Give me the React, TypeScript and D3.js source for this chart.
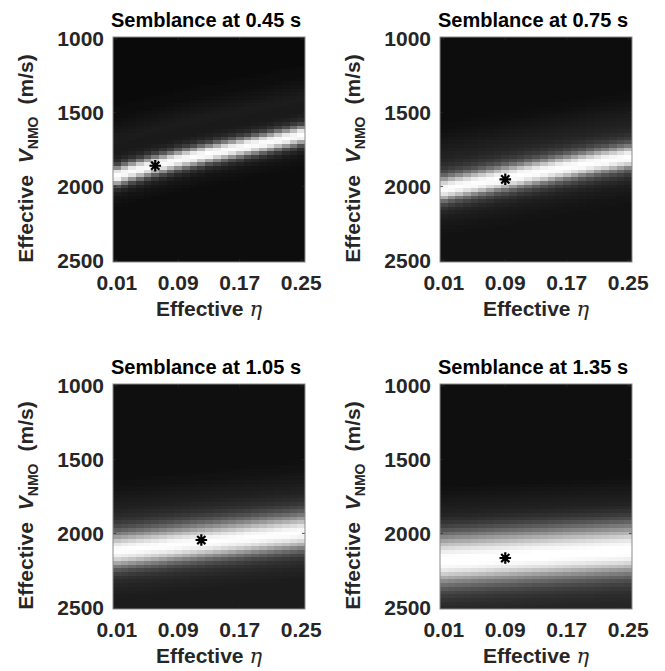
import React from "react";
import * as d3 from "d3";

// ---- data ----
const etaValues = [0.01, 0.02, 0.03, 0.04, 0.05, 0.06, 0.07, 0.08, 0.09, 0.1, 0.11, 0.12, 0.13, 0.14, 0.15, 0.16, 0.17, 0.18, 0.19, 0.2, 0.21, 0.22, 0.23, 0.24, 0.25];
const velocityStep = 25;
const velocityRows = d3.range(1000, 2500 + 1, velocityStep);

const titles = ["Semblance at 0.45 s", "Semblance at 0.75 s", "Semblance at 1.05 s", "Semblance at 1.35 s"];

// ridge (peak semblance) velocity for each eta column, m/s
const ridge045 = [1925, 1910, 1895, 1882, 1868, 1855, 1843, 1831, 1819, 1808, 1797, 1786, 1775, 1765, 1755, 1745, 1735, 1725, 1715, 1705, 1694, 1683, 1672, 1661, 1650];
const ridge075 = [2015, 2005, 1996, 1987, 1978, 1969, 1960, 1951, 1942, 1933, 1924, 1915, 1906, 1897, 1888, 1879, 1870, 1861, 1852, 1843, 1834, 1826, 1818, 1810, 1802];
const ridge105 = [2113, 2108, 2103, 2098, 2093, 2088, 2083, 2077, 2072, 2067, 2062, 2057, 2052, 2047, 2042, 2037, 2032, 2027, 2021, 2016, 2011, 2006, 2001, 1996, 1991];
const ridge135 = [2185, 2182, 2179, 2177, 2174, 2171, 2168, 2165, 2163, 2160, 2157, 2154, 2151, 2149, 2146, 2143, 2140, 2137, 2135, 2132, 2129, 2126, 2123, 2121, 2118];

// semblance across the ridge, rows offset -20 .. +14 (in velocity steps)
const profileOffsets = d3.range(-20, 15);
const profile045 = [0.04, 0.04, 0.05, 0.05, 0.05, 0.06, 0.07, 0.08, 0.09, 0.1, 0.11, 0.11, 0.1, 0.1, 0.1, 0.12, 0.16, 0.27, 0.54, 0.9, 1.0, 0.95, 0.64, 0.32, 0.17, 0.11, 0.08, 0.07, 0.06, 0.05, 0.05, 0.05, 0.05, 0.05, 0.05];
const profile075 = [0.05, 0.05, 0.05, 0.06, 0.06, 0.07, 0.08, 0.09, 0.1, 0.11, 0.12, 0.13, 0.14, 0.16, 0.19, 0.24, 0.33, 0.5, 0.75, 0.95, 1.0, 0.97, 0.8, 0.5, 0.32, 0.22, 0.16, 0.13, 0.11, 0.1, 0.09, 0.08, 0.08, 0.07, 0.07];
const profile105 = [0.06, 0.06, 0.07, 0.07, 0.08, 0.09, 0.1, 0.11, 0.12, 0.13, 0.15, 0.17, 0.2, 0.25, 0.32, 0.42, 0.55, 0.7, 0.85, 0.96, 1.0, 0.98, 0.9, 0.75, 0.56, 0.4, 0.29, 0.22, 0.18, 0.16, 0.14, 0.13, 0.12, 0.11, 0.11];
const profile135 = [0.06, 0.07, 0.08, 0.09, 0.1, 0.11, 0.12, 0.13, 0.15, 0.18, 0.22, 0.28, 0.36, 0.46, 0.57, 0.68, 0.79, 0.89, 0.96, 1.0, 1.0, 1.0, 0.96, 0.88, 0.76, 0.62, 0.5, 0.4, 0.32, 0.26, 0.22, 0.19, 0.17, 0.16, 0.15];

// picked maximum (asterisk)
const pickEta = [0.06, 0.09, 0.12, 0.09];
const pickVelocity = [1860, 1952, 2045, 2167];

const xTicks = [0.01, 0.09, 0.17, 0.25];
const yTicks = [1000, 1500, 2000, 2500];

const ridges = [ridge045, ridge075, ridge105, ridge135];
const profiles = [profile045, profile075, profile105, profile135];

// ---- layout ----
const W = 665;
const H = 671;
const plotW = 192;
const plotH = 225;
const origins = [
  { x: 113, y: 37 },
  { x: 440, y: 37 },
  { x: 113, y: 384 },
  { x: 440, y: 384 },
];
const FONT = "'Liberation Sans', Arial, Helvetica, sans-serif";

function profileValue(profile: number[], offset: number): number {
  const lo = profileOffsets[0];
  const hi = profileOffsets[profileOffsets.length - 1];
  if (offset <= lo) return profile[0];
  if (offset >= hi) return profile[profile.length - 1];
  const i = Math.floor(offset - lo);
  const t = offset - lo - i;
  return profile[i] * (1 - t) + profile[i + 1] * t;
}

function Asterisk({ cx, cy, r }: { cx: number; cy: number; r: number }) {
  const d = r * Math.SQRT1_2;
  const path = `M${cx - r},${cy}L${cx + r},${cy}M${cx},${cy - r}L${cx},${cy + r}M${cx - d},${cy - d}L${cx + d},${cy + d}M${cx - d},${cy + d}L${cx + d},${cy - d}`;
  return <path d={path} stroke="#000" strokeWidth={2.2} fill="none" />;
}

function Panel({ idx }: { idx: number }) {
  const { x: x0, y: y0 } = origins[idx];
  const half = 0.005;
  const xs = d3.scaleLinear().domain([etaValues[0] - half, etaValues[etaValues.length - 1] + half]).range([x0, x0 + plotW]);
  const ys = d3
    .scaleLinear()
    .domain([velocityRows[0] - velocityStep / 2, velocityRows[velocityRows.length - 1] + velocityStep / 2])
    .range([y0, y0 + plotH]);
  const gray = d3.scaleLinear<string>().domain([0, 1]).range(["#000000", "#ffffff"]).clamp(true);
  const ridge = ridges[idx];
  const profile = profiles[idx];

  const cells: JSX.Element[] = [];
  etaValues.forEach((eta, i) => {
    const xa = xs(eta - half);
    const xb = xs(eta + half);
    velocityRows.forEach((v, j) => {
      const ya = ys(v - velocityStep / 2);
      const yb = ys(v + velocityStep / 2);
      const val = profileValue(profile, (v - ridge[i]) / velocityStep);
      cells.push(
        <rect key={`${i}-${j}`} x={xa} y={ya} width={xb - xa + 0.4} height={yb - ya + 0.4} fill={gray(val)} />
      );
    });
  });

  const tickLen = 3;
  return (
    <g>
      <g shapeRendering="crispEdges">{cells}</g>
      <g stroke="#262626" strokeWidth={0.8}>
        {yTicks.map((t) => (
          <g key={`yt${t}`}>
            <line x1={x0} x2={x0 + tickLen} y1={ys(t)} y2={ys(t)} />
            <line x1={x0 + plotW} x2={x0 + plotW - tickLen} y1={ys(t)} y2={ys(t)} />
          </g>
        ))}
        {xTicks.map((t) => (
          <g key={`xt${t}`}>
            <line x1={xs(t)} x2={xs(t)} y1={y0 + plotH} y2={y0 + plotH - tickLen} />
            <line x1={xs(t)} x2={xs(t)} y1={y0} y2={y0 + tickLen} />
          </g>
        ))}
      </g>
      <rect x={x0} y={y0} width={plotW} height={plotH} fill="none" stroke="#8a8a8a" strokeWidth={1} />
      <Asterisk cx={xs(pickEta[idx])} cy={ys(pickVelocity[idx])} r={5.8} />
      <text x={x0 + plotW / 2 - 3} y={y0 - 10} textAnchor="middle" fontFamily={FONT} fontWeight="bold" fontSize={20} fill="#000">
        {titles[idx]}
      </text>
      {yTicks.map((t) => (
        <text key={`yl${t}`} x={x0 - 9} y={ys(t)} dy="0.36em" textAnchor="end" fontFamily={FONT} fontWeight="bold" fontSize={21} fill="#262626">
          {t}
        </text>
      ))}
      {xTicks.map((t) => (
        <text key={`xl${t}`} x={xs(t)} y={y0 + plotH + 28} textAnchor="middle" fontFamily={FONT} fontWeight="bold" fontSize={21} fill="#262626">
          {t.toFixed(2)}
        </text>
      ))}
      <text x={x0 + plotW / 2} y={y0 + plotH + 54} textAnchor="middle" fontFamily={FONT} fontWeight="bold" fontSize={21} fill="#262626">
        Effective{" "}
        <tspan fontFamily="'DejaVu Serif', 'Liberation Serif', serif" fontStyle="italic" fontWeight="normal" fontSize={21}>
          η
        </tspan>
      </text>
      <text
        transform={`translate(${x0 - 80},${y0 + plotH / 2 + 9}) rotate(-90)`}
        textAnchor="middle"
        fontFamily={FONT}
        fontWeight="bold"
        fontSize={21}
        fill="#262626"
      >
        <tspan>Effective</tspan>
        <tspan dx={12} fontStyle="italic">V</tspan>
        <tspan dy={5} fontSize={14}>NMO</tspan>
        <tspan dy={-5} dx={12}>(m/s)</tspan>
      </text>
    </g>
  );
}

export default function App() {
  return (
    <svg width={W} height={H} style={{ position: "absolute", left: 0, top: 0, background: "#fff" }}>
      <rect width={W} height={H} fill="#fff" />
      {[0, 1, 2, 3].map((i) => (
        <Panel key={i} idx={i} />
      ))}
    </svg>
  );
}
